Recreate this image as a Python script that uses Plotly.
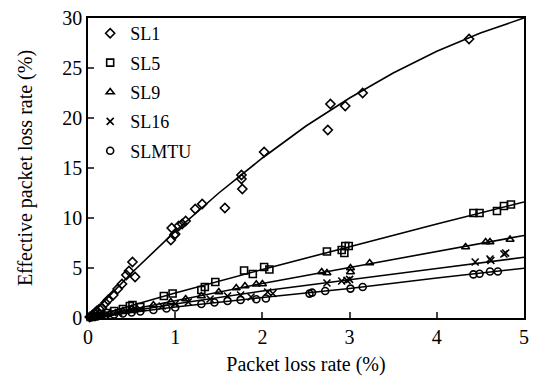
import plotly.graph_objects as go

# ---- data ----
series_names = ["SL1", "SL5", "SL9", "SL16", "SLMTU"]

sl1_x = [0.02, 0.05, 0.08, 0.10, 0.13, 0.16, 0.20, 0.23, 0.29, 0.34, 0.39, 0.44, 0.47, 0.51, 0.54,
         0.95, 0.96, 0.99, 1.00, 1.04, 1.08, 1.12, 1.23, 1.31, 1.57, 1.76, 1.76, 1.77, 2.02,
         2.75, 2.78, 2.95, 3.15, 4.37]
sl1_y = [0.1, 0.3, 0.5, 0.7, 0.9, 1.0, 1.5, 1.8, 2.3, 2.9, 3.4, 4.3, 4.7, 5.6, 4.1,
         7.8, 9.0, 8.3, 8.4, 9.2, 9.4, 9.7, 10.9, 11.4, 11.0, 14.3, 13.9, 12.9, 16.6,
         18.8, 21.4, 21.2, 22.5, 27.9]

sl5_x = [0.03, 0.08, 0.15, 0.22, 0.30, 0.40, 0.48, 0.51, 0.60, 0.87, 0.97, 1.30, 1.34, 1.46,
         1.79, 1.89, 2.02, 2.08, 2.74, 2.91, 2.94, 2.95, 2.99, 4.42, 4.49, 4.69, 4.77, 4.85]
sl5_y = [0.1, 0.2, 0.4, 0.5, 0.7, 0.9, 1.2, 1.3, 1.1, 2.2, 2.45, 2.8, 3.1, 3.6,
         4.75, 4.4, 5.1, 4.85, 6.65, 6.8, 6.5, 7.2, 7.2, 10.5, 10.5, 10.7, 11.2, 11.35]

sl9_x = [0.05, 0.15, 0.25, 0.40, 0.50, 0.75, 0.95, 1.12, 1.30, 1.50, 1.70, 1.80, 1.93, 2.00,
         2.68, 2.74, 3.01, 3.01, 3.23, 4.33, 4.56, 4.61, 4.84]
sl9_y = [0.1, 0.25, 0.45, 0.7, 0.9, 1.3, 1.6, 1.9, 2.2, 2.6, 3.0, 3.2, 3.37, 3.4,
         4.6, 4.5, 4.6, 5.0, 5.5, 7.1, 7.6, 7.6, 7.85]

sl16_x = [0.05, 0.12, 0.20, 0.35, 0.50, 0.60, 0.85, 1.00, 1.15, 1.40, 1.60, 1.75, 1.87, 2.06,
          2.12, 2.74, 2.91, 2.97, 3.00, 4.44, 4.61, 4.62, 4.77, 4.79]
sl16_y = [0.05, 0.2, 0.3, 0.55, 0.75, 0.9, 1.2, 1.4, 1.6, 1.9, 2.2, 2.3, 2.1, 2.6,
          2.45, 3.5, 3.7, 3.76, 3.86, 5.6, 5.9, 5.75, 6.4, 6.5]

slmtu_x = [0.03, 0.10, 0.20, 0.30, 0.40, 0.50, 0.60, 0.75, 0.90, 1.00, 1.30, 1.45, 1.60, 1.75,
           1.93, 2.04, 2.54, 2.57, 2.72, 3.01, 3.15, 4.42, 4.49, 4.61, 4.70]
slmtu_y = [0.05, 0.15, 0.25, 0.35, 0.45, 0.55, 0.65, 0.8, 0.95, 1.05, 1.4, 1.55, 1.7, 1.8,
           1.88, 1.95, 2.44, 2.54, 2.7, 2.94, 3.1, 4.36, 4.42, 4.65, 4.65]

# fitted curves
fit1_x = [0, 0.5, 1, 1.5, 2, 2.5, 3, 3.5, 4, 4.5, 5]
fit1_y = [0, 4.5, 8.67, 12.5, 16.0, 19.2, 22.0, 24.5, 26.67, 28.5, 30.0]
fit_x = [0, 1, 2, 3, 4, 5]
fit5_y = [0, 2.5, 4.85, 7.15, 9.4, 11.6]
fit9_y = [0, 1.75, 3.45, 5.05, 6.65, 8.25]
fit16_y = [0, 1.4, 2.7, 3.85, 4.95, 6.07]
fitmtu_y = [0, 1.1, 2.05, 2.95, 4.0, 4.98]

x_ticks = [0, 1, 2, 3, 4, 5]
y_ticks = [0, 5, 10, 15, 20, 25, 30]

FONT = "Liberation Serif"

fig = go.Figure()

fits = [(fit1_x, fit1_y), (fit_x, fit5_y), (fit_x, fit9_y), (fit_x, fit16_y), (fit_x, fitmtu_y)]
for fx, fy in fits:
    fig.add_trace(go.Scatter(x=fx, y=fy, mode="lines", line=dict(color="black", width=1.6),
                             showlegend=False, hoverinfo="skip", cliponaxis=False))

pts = [(sl1_x, sl1_y, "diamond-open", 7), (sl5_x, sl5_y, "square-open", 7),
       (sl9_x, sl9_y, "triangle-up-open", 7), (sl16_x, sl16_y, "x-thin-open", 7),
       (slmtu_x, slmtu_y, "circle-open", 7)]
for name, (px, py, sym, sz) in zip(series_names, pts):
    fig.add_trace(go.Scatter(x=px, y=py, mode="markers", name=name, legendgroup=name,
                             marker=dict(symbol=sym, size=sz, color="black",
                                         line=dict(color="black", width=1.6)),
                             cliponaxis=False))

fig.update_layout(
    width=536, height=381,
    margin=dict(l=88, r=7, t=15, b=63),
    paper_bgcolor="white", plot_bgcolor="white",
    font=dict(family=FONT, size=20, color="black"),
    showlegend=True,
    legend=dict(x=0.005, y=1.01, xanchor="left", yanchor="top", bgcolor="rgba(0,0,0,0)",
                font=dict(family=FONT, size=18), traceorder="grouped", tracegroupgap=3),
    xaxis=dict(range=[0, 5], tickvals=x_ticks, ticks="inside", ticklen=6, tickwidth=1.5,
               showline=True, linecolor="black", linewidth=1.5, mirror=True,
               showgrid=False, zeroline=False, tickfont=dict(family=FONT, size=20),
               title=dict(text="Packet loss rate (%)", standoff=10, font=dict(family=FONT, size=20))),
    yaxis=dict(range=[0, 30], tickvals=y_ticks, ticks="inside", ticklen=6, tickwidth=1.5,
               showline=True, linecolor="black", linewidth=1.5, mirror=True,
               showgrid=False, zeroline=False, tickfont=dict(family=FONT, size=20),
               title=dict(text="Effective packet loss rate (%)", standoff=24,
                          font=dict(family=FONT, size=20))),
)

fig.write_html("out.html")
